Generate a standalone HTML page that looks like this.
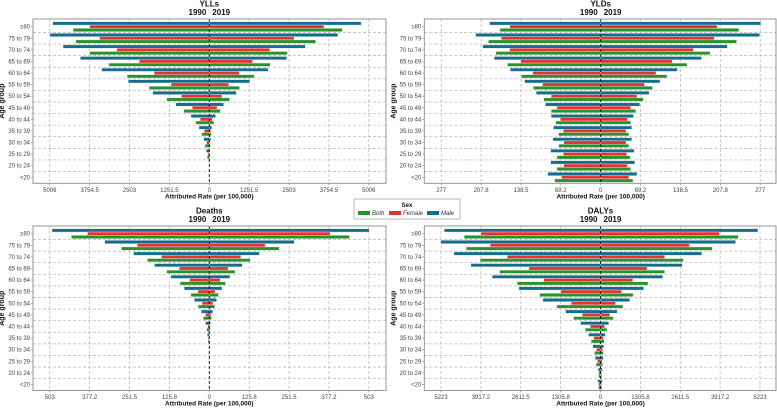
<!DOCTYPE html>
<html><head><meta charset="utf-8"><style>
body{margin:0;background:#fff;}
svg{display:block;font-family:"Liberation Sans",sans-serif;}
</style></head><body>
<svg id="chart" width="777" height="408" viewBox="0 0 777 408"></svg>
<script>
const ages = ["≥80","75 to 79","70 to 74","65 to 69","60 to 64","55 to 59","50 to 54","45 to 49","40 to 44","35 to 39","30 to 34","25 to 29","20 to 24","<20"];
const ageGroups = ["≥80","75 to 79","70 to 74","65 to 69","60 to 64","55 to 59","50 to 54","45 to 49","40 to 44","35 to 39","30 to 34","25 to 29","20 to 24","<20"];
// YLLs
const yllMale1990 = [4912,5006,4589,4046,3379,2545,1773,1053,574,323,177,94,10,8];
const yllFemale1990 = [3754,3442,2899,2200,1731,1199,876,532,282,156,83,42,6,5];
const yllBoth1990 = [4276,4192,3754,3150,2576,1888,1335,803,428,240,136,63,8,6];
const yllMale2019 = [4766,4036,3014,2430,1846,1272,845,448,198,83,42,15,5,4];
const yllFemale2019 = [3598,2659,1898,1356,939,605,396,240,94,42,20,10,3,3];
const yllBoth2019 = [4172,3337,2451,1909,1408,949,636,344,146,63,31,12,4,3];
// YLDs
const yldMale1990 = [193,217,205,185,157,132,112,96,86,82,83,87,87,92];
const yldFemale1990 = [158,173,158,139,118,101,86,76,70,65,64,65,64,68];
const yldBoth1990 = [175,195,182,162,138,117,99,86,78,73,73,76,76,80];
const yldMale2019 = [278,276,220,175,133,103,84,68,57,54,54,58,59,63];
const yldFemale2019 = [202,197,161,124,96,76,63,52,46,44,44,45,46,49];
const yldBoth2019 = [240,236,190,150,115,90,74,61,52,49,49,51,52,56];
// Deaths
const dthMale1990 = [496,330,239,173,121,79,47,25,12,6,2,1,0.5,0.5];
const dthFemale1990 = [384,227,151,95,62,36,23,12,5,3,1,0.5,0.3,0.3];
const dthBoth1990 = [435,277,195,134,92,58,35,19,8,4,1.5,0.7,0.4,0.4];
const dthMale2019 = [504,268,158,104,65,40,23,11,4,1.5,0.8,0.5,0.3,0.3];
const dthFemale2019 = [381,176,99,59,34,18,11,5,2,1,0.5,0.3,0.2,0.2];
const dthBoth2019 = [442,221,129,81,51,29,17,7,3,1,0.6,0.4,0.2,0.2];
// DALYs
const dalyMale1990 = [5114,5234,4798,4242,3544,2671,1886,1145,654,393,251,174,76,87];
const dalyFemale1990 = [3914,3609,3053,2344,1854,1298,960,600,338,218,131,98,55,55];
const dalyBoth1990 = [4460,4394,3936,3304,2726,1995,1428,883,502,305,196,142,65,65];
const dalyMale2019 = [5156,4423,3312,2678,2034,1411,956,544,267,156,111,89,56,56];
const dalyFemale2019 = [3889,2912,2100,1522,1056,689,489,300,133,89,67,56,33,33];
const dalyBoth2019 = [4512,3656,2711,2100,1556,1067,733,422,211,122,89,67,44,44];
const yllTicks = ["5006","3754.5","2503","1251.5","0","1251.5","2503","3754.5","5006"];
const yldTicks = ["277","207.8","138.5","69.2","0","69.2","138.5","207.8","277"];
const dthTicks = ["503","377.2","251.5","125.8","0","125.8","251.5","377.2","503"];
const dalyTicks = ["5223","3917.2","2611.5","1305.8","0","1305.8","2611.5","3917.2","5223"];
const maxVals = [5006,277,503,5223];
const titles = ["YLLs","YLDs","Deaths","DALYs"];

const NS="http://www.w3.org/2000/svg";
const svg=document.getElementById('chart');
function mk(tag,attrs,parent){const e=document.createElementNS(NS,tag);for(const k in attrs)e.setAttribute(k,attrs[k]);(parent||svg).appendChild(e);return e;}

const panels=[
 {key:'ylls',x0:33,x1:386,y0:19,y1:183.3,zero:209.3,title:titles[0],max:maxVals[0],ticks:yllTicks,
  d:[[yllMale1990,yllFemale1990,yllBoth1990],[yllMale2019,yllFemale2019,yllBoth2019]]},
 {key:'ylds',x0:424.3,x1:776,y0:19,y1:183.3,zero:600.7,title:titles[1],max:maxVals[1],ticks:yldTicks,
  d:[[yldMale1990,yldFemale1990,yldBoth1990],[yldMale2019,yldFemale2019,yldBoth2019]]},
 {key:'deaths',x0:33,x1:386,y0:226,y1:390.5,zero:209.3,title:titles[2],max:maxVals[2],ticks:dthTicks,
  d:[[dthMale1990,dthFemale1990,dthBoth1990],[dthMale2019,dthFemale2019,dthBoth2019]]},
 {key:'dalys',x0:424.3,x1:776,y0:226,y1:390.5,zero:600.5,title:titles[3],max:maxVals[3],ticks:dalyTicks,
  d:[[dalyMale1990,dalyFemale1990,dalyBoth1990],[dalyMale2019,dalyFemale2019,dalyBoth2019]]}
];
const colors=["#146c8f","#e63230","#2a922a"];
const names=["male","female","both"];
const HALF=159.5;

panels.forEach(p=>{
  const g=mk('g',{});
  
  
  const rowTop=p.y0+7.7, step=(p.y1-p.y0-13.7)/(ageGroups.length-1);
  const yS=i=>rowTop+i*step;
  const xS=(v,side)=>p.zero+(side?1:-1)*v/p.max*HALF;
  mk('rect',{x:p.x0,y:p.y0,width:p.x1-p.x0,height:p.y1-p.y0,fill:'#fff',stroke:'none'},g);
  // vertical grid
  const vals=[-1,-0.75,-0.5,-0.25,0,0.25,0.5,0.75,1];
  vals.forEach((f,k)=>{
    const x=p.zero+f*HALF;
    if(f!==0){const l=mk('line',{x1:x,x2:x,y1:p.y0,y2:p.y1,stroke:'#b5b5b5','stroke-width':0.7,'stroke-dasharray':'3,2'},g);
      }
    mk('line',{x1:x,x2:x,y1:p.y1,y2:p.y1+2,stroke:'#888','stroke-width':0.7},g);
    const t=mk('text',{x:x,y:p.y1+8.5,'font-size':6,fill:'#444','text-anchor':'middle'},g);
    t.textContent=p.ticks[k];
    
  });
  // horizontal grid between rows
  for(let i=0;i<ageGroups.length-1;i++){
    const y=yS(i)+step/2;
    const l=mk('line',{x1:p.x0,x2:p.x1,y1:y,y2:y,stroke:'#b5b5b5','stroke-width':0.7,'stroke-dasharray':'3,2'},g);
    
  }
  // bars
  for(let side=0;side<2;side++){
    for(let s=0;s<3;s++){
      const arr=p.d[side][s];
      arr.forEach((v,i)=>{
        const xe=xS(v,side);
        const x=Math.min(xe,p.zero), w=Math.abs(xe-p.zero);
        const r=mk('rect',{x:x,y:yS(i)+(s-1)*3.3-1.65,width:w,height:3.3,fill:colors[s],stroke:'#e8e8e8','stroke-width':0.4},g);
        
        
      });
    }
  }
  // zero line
  const z=mk('line',{x1:p.zero,x2:p.zero,y1:p.y0,y2:p.y1,stroke:'#111','stroke-width':0.9,'stroke-dasharray':'3,2'},g);
  
  // frame
  mk('rect',{x:p.x0,y:p.y0,width:p.x1-p.x0,height:p.y1-p.y0,fill:'none',stroke:'#8a8a8a','stroke-width':0.9},g);
  // y labels
  ageGroups.forEach((a,i)=>{
    mk('line',{x1:p.x0-2,x2:p.x0,y1:yS(i),y2:yS(i),stroke:'#888','stroke-width':0.7},g);
    const t=mk('text',{x:p.x0-3,y:yS(i)+2,'font-size':6,fill:'#444','text-anchor':'end'},g);
    t.textContent=a;
    
  });
  const yc=(p.y0+p.y1)/2, yx=p.x0-29;
  const yt=mk('text',{x:yx,y:yc,'font-size':7,'font-weight':'bold',fill:'#111','text-anchor':'middle',transform:`rotate(-90 ${yx} ${yc})`},g);
  yt.textContent='Age group';
  
  const xt=mk('text',{x:p.zero,y:p.y1+15,'font-size':6.5,'font-weight':'bold',fill:'#111','text-anchor':'middle'},g);
  xt.textContent='Attributed Rate (per 100,000)';
  
  const tt=mk('text',{x:p.zero,y:p.y0-12.5,'font-size':8,'font-weight':'bold',fill:'#111','text-anchor':'middle'},g);
  tt.textContent=p.title;
  
  const t1=mk('text',{x:p.zero-3,y:p.y0-4,'font-size':8,'font-weight':'bold',fill:'#111','text-anchor':'end'},g);
  t1.textContent='1990';
  
  const t2=mk('text',{x:p.zero+3,y:p.y0-4,'font-size':8,'font-weight':'bold',fill:'#111','text-anchor':'start'},g);
  t2.textContent='2019';
  
});

// legend
const lg=mk('g',{});


mk('rect',{x:354,y:199,width:106,height:20,fill:'#fff',stroke:'#999','stroke-width':0.7},lg);
const lt=mk('text',{x:407,y:207,'font-size':6,'font-weight':'bold','text-anchor':'middle',fill:'#111'},lg);
lt.textContent='Sex';

const legItems=[["Both","#2a922a",358],["Female","#e63230",389],["Male","#146c8f",427]];
legItems.forEach(it=>{
  const r=mk('rect',{x:it[2],y:211,width:12,height:4,fill:it[1]},lg);
  
  const t=mk('text',{x:it[2]+14,y:215.2,'font-size':6,'font-style':'italic',fill:'#333'},lg);
  t.textContent=it[0];
  
});
</script>
</body></html>
